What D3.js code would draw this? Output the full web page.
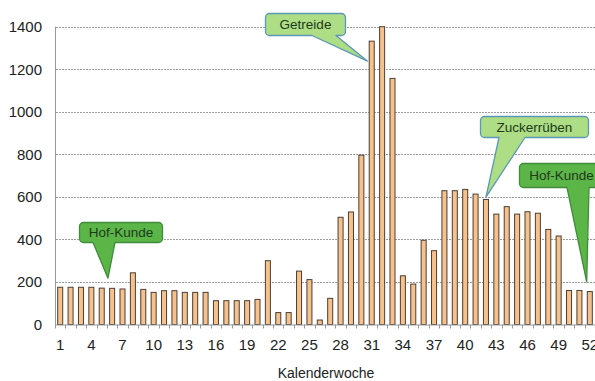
<!DOCTYPE html>
<html>
<head>
<meta charset="utf-8">
<script src="https://cdn.jsdelivr.net/npm/d3@7"></script>
<style>
  html, body { margin: 0; padding: 0; background: #fff; }
  svg { display: block; font-family: "Liberation Sans", Arial, sans-serif; }
</style>
</head>
<body>
<svg id="chart" width="595" height="381"></svg>
<script>
// Weekly delivery volumes per calendar week
const weeks = d3.range(1, 53);
const values = [
  175, 175, 175, 175, 171, 170, 167, 243, 165, 151,
  159, 159, 151, 151, 151, 112, 112, 112, 112, 118,
  300, 56, 56, 251, 211, 21, 123, 504, 529, 796,
  1332, 1400, 1157, 229, 190, 396, 347, 629, 629, 635,
  613, 588, 519, 554, 519, 530, 523, 447, 416, 160,
  160, 155
];
const yTicks = [0, 200, 400, 600, 800, 1000, 1200, 1400];
const xTickWeeks = weeks.filter(w => (w - 1) % 3 === 0);
const xTitle = "Kalenderwoche";

// Callout labels and the (week, value) each one points at
const calloutLabels = ["Hof-Kunde", "Getreide", "Zuckerrüben", "Hof-Kunde"];
const calloutTargets = [[5.6, 218], [30.6, 1238], [42, 599], [51.7, 200]];

const svg = d3.select("#chart");
const W = 595, H = 381;
const plotLeft = 55, plotRight = 595, plotTop = 26.7, plotBottom = 324.5;

const x = d3.scaleBand().domain(weeks).range([plotLeft, plotRight]).paddingInner(0.42).paddingOuter(0.21);
const xc = w => plotLeft + (w - 0.5) * (plotRight - plotLeft) / weeks.length; // continuous week -> px
const y = d3.scaleLinear().domain([0, 1400]).range([plotBottom, plotTop]);

// Gridlines
svg.append("g")
  .selectAll("line")
  .data(yTicks.filter(t => t > 0))
  .join("line")
  .attr("x1", plotLeft + 1).attr("x2", W)
  .attr("y1", d => Math.round(y(d)) + 0.5).attr("y2", d => Math.round(y(d)) + 0.5)
  .attr("stroke", "#9c9c9c").attr("stroke-width", 1).attr("stroke-dasharray", "2,1");

// Y axis labels
svg.append("g")
  .selectAll("text")
  .data(yTicks)
  .join("text")
  .attr("x", 42).attr("y", d => y(d))
  .attr("dy", "0.36em")
  .attr("text-anchor", "end")
  .attr("font-size", 15)
  .attr("fill", "#222")
  .text(d => d);

// Bars
svg.append("g")
  .selectAll("rect")
  .data(weeks)
  .join("rect")
  .attr("x", d => x(d) + 0.5)
  .attr("y", d => y(values[d - 1]))
  .attr("width", x.bandwidth() - 1)
  .attr("height", d => plotBottom - y(values[d - 1]))
  .attr("fill", "#f6c18b")
  .attr("stroke", "#4a3f36")
  .attr("stroke-width", 1);

// Axis lines
svg.append("line")
  .attr("x1", plotLeft + 0.5).attr("x2", plotLeft + 0.5)
  .attr("y1", plotTop).attr("y2", plotBottom + 1)
  .attr("stroke", "#999");
svg.append("line")
  .attr("x1", plotLeft).attr("x2", W)
  .attr("y1", plotBottom + 0.5).attr("y2", plotBottom + 0.5)
  .attr("stroke", "#999");

// Tick marks between weeks
const step = x.step();
svg.append("g")
  .selectAll("line")
  .data(d3.range(0, weeks.length + 1))
  .join("line")
  .attr("x1", i => Math.round(plotLeft + i * step) + 0.5)
  .attr("x2", i => Math.round(plotLeft + i * step) + 0.5)
  .attr("y1", plotBottom).attr("y2", plotBottom + 4)
  .attr("stroke", "#999");

// X tick labels
svg.append("g")
  .selectAll("text")
  .data(xTickWeeks)
  .join("text")
  .attr("x", d => x(d) + x.bandwidth() / 2)
  .attr("y", 350)
  .attr("text-anchor", "middle")
  .attr("font-size", 15)
  .attr("fill", "#222")
  .text(d => d);

svg.append("text")
  .attr("x", 326).attr("y", 378)
  .attr("text-anchor", "middle")
  .attr("font-size", 14)
  .attr("fill", "#222")
  .text(xTitle);

// Speech-bubble callouts
const bubbleStyle = [
  { box: [79.5, 222.5, 83, 20], base: [93, 115], fill: "#5cb547", stroke: "#3f8d3c" },
  { box: [265.5, 13.5, 80, 22], base: [312, 336], fill: "#addd84", stroke: "#5b98b8" },
  { box: [480.5, 116.5, 108, 21], base: [499, 525], fill: "#addd84", stroke: "#5b98b8" },
  { box: [519.5, 163.5, 84, 24], base: [567, 589], fill: "#5cb547", stroke: "#3f8d3c" }
];

function bubblePath(b, tip) {
  const [bx, by, bw, bh] = b.box, r = 4;
  const [b0, b1] = b.base;
  const p = d3.path();
  p.moveTo(bx + r, by);
  p.lineTo(bx + bw - r, by);
  p.arcTo(bx + bw, by, bx + bw, by + r, r);
  p.lineTo(bx + bw, by + bh - r);
  p.arcTo(bx + bw, by + bh, bx + bw - r, by + bh, r);
  p.lineTo(b1, by + bh);
  p.lineTo(tip[0], tip[1]);
  p.lineTo(b0, by + bh);
  p.lineTo(bx + r, by + bh);
  p.arcTo(bx, by + bh, bx, by + bh - r, r);
  p.lineTo(bx, by + r);
  p.arcTo(bx, by, bx + r, by, r);
  p.closePath();
  return p.toString();
}

const callouts = svg.append("g")
  .selectAll("g")
  .data(calloutLabels.map((label, i) => ({ label, target: calloutTargets[i], style: bubbleStyle[i] })))
  .join("g");

callouts.append("path")
  .attr("d", d => bubblePath(d.style, [xc(d.target[0]), y(d.target[1])]))
  .attr("fill", d => d.style.fill)
  .attr("stroke", d => d.style.stroke)
  .attr("stroke-width", 1.3)
  .attr("stroke-linejoin", "round");

callouts.append("text")
  .attr("x", d => d.style.box[0] + d.style.box[2] / 2)
  .attr("y", d => d.style.box[1] + d.style.box[3] / 2)
  .attr("dy", "0.36em")
  .attr("text-anchor", "middle")
  .attr("font-size", 13.5)
  .attr("fill", "#1d3a1d")
  .text(d => d.label);
</script>
</body>
</html>
